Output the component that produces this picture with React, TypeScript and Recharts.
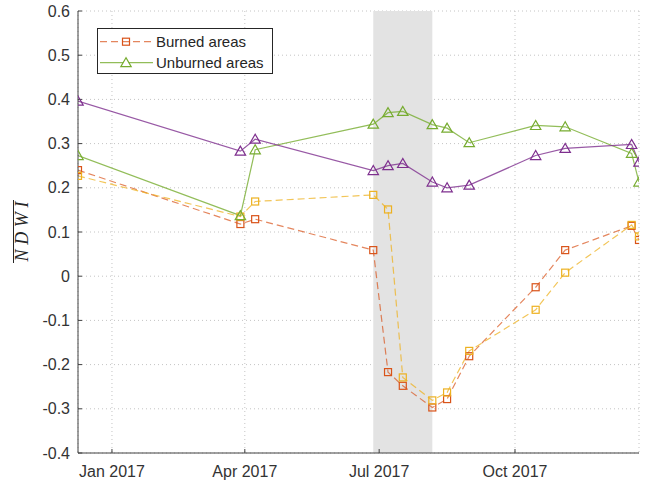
import React from 'react';
import { LineChart, Line, XAxis, YAxis, CartesianGrid, ReferenceArea, Legend } from 'recharts';

// acquisition dates
const dates = [
  '2016-12-09', '2017-03-29', '2017-04-08', '2017-06-27', '2017-07-07', '2017-07-17',
  '2017-08-06', '2017-08-16', '2017-08-31', '2017-10-15', '2017-11-04', '2017-12-19', '2017-12-24',
];
// series values (mean NDWI)
const burned = [0.240, 0.118, 0.129, 0.059, -0.217, -0.248, -0.297, -0.278, -0.181, -0.025, 0.059, 0.114, 0.082];
const burned2 = [0.227, 0.135, 0.169, 0.184, 0.151, -0.229, -0.281, -0.263, -0.169, -0.076, 0.008, 0.116, 0.090];
const unburned = [0.273, 0.137, 0.286, 0.344, 0.370, 0.373, 0.343, 0.335, 0.302, 0.341, 0.338, 0.278, 0.213];
const unburned2 = [0.396, 0.283, 0.310, 0.239, 0.250, 0.255, 0.213, 0.200, 0.206, 0.273, 0.289, 0.298, 0.258];

const yTicks = [-0.4, -0.3, -0.2, -0.1, 0, 0.1, 0.2, 0.3, 0.4, 0.5, 0.6];
const xTickDates = ['2017-01-01', '2017-04-01', '2017-07-01', '2017-10-01'];
const monthNames = ['Jan', 'Feb', 'Mar', 'Apr', 'May', 'Jun', 'Jul', 'Aug', 'Sep', 'Oct', 'Nov', 'Dec'];
const fireStart = '2017-06-27';
const fireEnd = '2017-08-06';

const ORANGE = '#D95319';
const YELLOW = '#EDB120';
const GREEN = '#77AC30';
const PURPLE = '#7E2F8E';
const AXIS = '#404040';
const FONT = '"Liberation Sans", Arial, Helvetica, sans-serif';

const ts = (s: string) => Date.parse(s + 'T00:00:00Z');

const data = dates.map((d, i) => ({
  t: ts(d),
  burned: burned[i],
  burned2: burned2[i],
  unburned: unburned[i],
  unburned2: unburned2[i],
}));

const xTicks = xTickDates.map(ts);
const xDomain = [ts(dates[0]), ts(dates[dates.length - 1])];

const fmtDate = (v: number) => {
  const d = new Date(v);
  return monthNames[d.getUTCMonth()] + ' ' + d.getUTCFullYear();
};
const fmtY = (v: number) => (Math.abs(v) < 1e-9 ? '0' : v.toFixed(1));

const squareDot = (color: string) => (props: any) => {
  const { cx, cy, index } = props;
  if (cx == null || cy == null) return <g key={`s${index}`} />;
  return (
    <rect key={`s${index}`} x={cx - 3.5} y={cy - 3.5} width={7} height={7} fill="none" stroke={color} strokeWidth={1.2} />
  );
};
const triDot = (color: string) => (props: any) => {
  const { cx, cy, index } = props;
  if (cx == null || cy == null) return <g key={`t${index}`} />;
  const pts = `${cx},${cy - 5} ${cx - 5.2},${cy + 4} ${cx + 5.2},${cy + 4}`;
  return <polygon key={`t${index}`} points={pts} fill="none" stroke={color} strokeWidth={1.2} />;
};

const renderLegend = () => (
  <svg width={176} height={46} style={{ display: 'block' }}>
    <rect x={0.5} y={0.5} width={175} height={45} fill="#ffffff" stroke="#262626" strokeWidth={1} />
    <line x1={3} x2={56} y1={13.7} y2={13.7} stroke={ORANGE} strokeOpacity={0.7} strokeWidth={1.2} strokeDasharray="7 4" />
    <rect x={29 - 3.5} y={13.7 - 3.5} width={7} height={7} fill="none" stroke={ORANGE} strokeWidth={1.2} />
    <text x={59} y={19} fontFamily={FONT} fontSize={15} fill="#262626">Burned areas</text>
    <line x1={3} x2={56} y1={34.7} y2={34.7} stroke={GREEN} strokeOpacity={0.8} strokeWidth={1.2} />
    <polygon points={`29,${34.7 - 5} ${29 - 5.2},${34.7 + 4} ${29 + 5.2},${34.7 + 4}`} fill="#fff" stroke={GREEN} strokeWidth={1.2} />
    <text x={59} y={40} fontFamily={FONT} fontSize={15} fill="#262626">Unburned areas</text>
  </svg>
);

const YLabel = () => (
  <g>
    <line x1={13.5} x2={13.5} y1={200} y2={263} stroke="#262626" strokeWidth={1} />
    <text
      x={27.5}
      y={231.5}
      transform="rotate(-90, 27.5, 231.5)"
      textAnchor="middle"
      fontFamily='"Liberation Serif", "Times New Roman", serif'
      fontStyle="italic"
      fontSize={18}
      textLength={60}
      lengthAdjust="spacing"
      fill="#262626"
    >
      NDWI
    </text>
  </g>
);

export default function App() {
  return (
    <div style={{ position: 'absolute', left: 0, top: 0, width: 652, height: 485, background: '#fff' }}>
      <LineChart width={652} height={485} data={data} margin={{ top: 11, right: 13, bottom: 0, left: 0 }}>
        <CartesianGrid stroke="#c4c4c4" strokeDasharray="1 3" strokeWidth={1} />
        <ReferenceArea x1={ts(fireStart)} x2={ts(fireEnd)} fill="#e3e3e3" fillOpacity={1} stroke="none" />
        <XAxis
          dataKey="t"
          type="number"
          scale="time"
          domain={xDomain}
          ticks={xTicks}
          tickFormatter={fmtDate}
          height={32}
          tickSize={-4}
          tickMargin={17}
          stroke={AXIS}
          tick={{ fill: '#333', fontSize: 16, fontFamily: FONT }}
          allowDataOverflow
        />
        <XAxis
          xAxisId="top"
          orientation="top"
          dataKey="t"
          type="number"
          scale="time"
          domain={xDomain}
          ticks={xTicks}
          height={0}
          tickSize={-4}
          tick={false}
          stroke={AXIS}
          allowDataOverflow
        />
        <YAxis
          type="number"
          domain={[-0.4, 0.6]}
          ticks={yTicks}
          tickFormatter={fmtY}
          width={78}
          tickSize={-4}
          tickMargin={12}
          stroke={AXIS}
          tick={{ fill: '#333', fontSize: 16, fontFamily: FONT }}
          label={<YLabel />}
          allowDataOverflow
        />
        <YAxis
          yAxisId="right"
          orientation="right"
          type="number"
          domain={[-0.4, 0.6]}
          ticks={yTicks}
          width={0}
          tickSize={-4}
          tick={false}
          stroke={AXIS}
          allowDataOverflow
        />
        <Line
          dataKey="burned"
          name="Burned areas"
          stroke={ORANGE}
          strokeOpacity={0.7}
          strokeWidth={1.2}
          strokeDasharray="7 4"
          dot={squareDot(ORANGE)}
          activeDot={false}
          isAnimationActive={false}
        />
        <Line
          dataKey="burned2"
          name="Burned areas (2)"
          stroke={YELLOW}
          strokeOpacity={0.75}
          strokeWidth={1.2}
          strokeDasharray="7 4"
          dot={squareDot(YELLOW)}
          activeDot={false}
          isAnimationActive={false}
        />
        <Line
          dataKey="unburned"
          name="Unburned areas"
          stroke={GREEN}
          strokeOpacity={0.8}
          strokeWidth={1.2}
          dot={triDot(GREEN)}
          activeDot={false}
          isAnimationActive={false}
        />
        <Line
          dataKey="unburned2"
          name="Unburned areas (2)"
          stroke={PURPLE}
          strokeOpacity={0.8}
          strokeWidth={1.2}
          dot={triDot(PURPLE)}
          activeDot={false}
          isAnimationActive={false}
        />
        <Legend
          content={renderLegend}
          layout="horizontal"
          verticalAlign="middle"
          align="center"
          wrapperStyle={{ position: 'absolute', left: 97, top: 28, width: 176, height: 46 }}
        />
      </LineChart>
    </div>
  );
}
